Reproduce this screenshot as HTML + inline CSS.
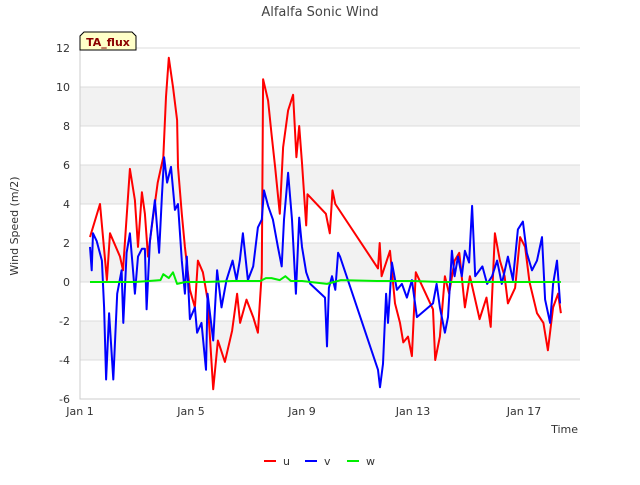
<!DOCTYPE html>
<html><head><meta charset="utf-8"><style>
body{margin:0;background:#fff;font-family:"Liberation Sans","DejaVu Sans",sans-serif}
svg text{font-family:"DejaVu Sans","Liberation Sans",sans-serif}
</style></head><body>
<svg id="c" width="640" height="480" xmlns="http://www.w3.org/2000/svg"></svg>
<script>
const xTickLabels=["Jan 1","Jan 5","Jan 9","Jan 13","Jan 17"];
const xTickDays=[0,4,8,12,16];
const yTicks=[-6,-4,-2,0,2,4,6,8,10,12];
const uT=[0.36,0.72,0.97,1.08,1.44,1.55,1.8,1.98,2.09,2.23,2.34,2.45,2.6,2.8,3.0,3.1,3.2,3.35,3.5,3.53,3.67,3.78,3.96,4.14,4.25,4.43,4.6,4.8,4.97,5.22,5.48,5.66,5.77,6.0,6.24,6.41,6.55,6.6,6.78,6.9,7.03,7.2,7.32,7.5,7.68,7.8,7.9,8.0,8.15,8.2,8.86,9.0,9.1,9.2,10.74,10.8,10.87,11.17,11.35,11.53,11.65,11.82,11.96,12.1,12.72,12.8,12.97,13.15,13.3,13.5,13.67,13.87,14.05,14.4,14.65,14.8,14.95,15.13,15.3,15.42,15.68,15.86,16.04,16.2,16.47,16.7,16.86,17.05,17.23,17.33];
const uV=[2.3,4.0,0.1,2.5,1.3,0.6,5.8,4.2,1.8,4.6,3.5,1.3,3.0,5.1,6.4,9.5,11.5,10.0,8.3,5.9,3.5,1.8,-0.4,-1.3,1.1,0.5,-0.9,-5.5,-3.0,-4.1,-2.5,-0.6,-2.1,-0.9,-1.8,-2.6,0.5,10.4,9.3,7.6,5.9,3.5,6.9,8.8,9.6,6.4,8.0,6.1,2.9,4.5,3.5,2.5,4.7,4.0,0.7,2.0,0.3,1.6,-1.1,-2.1,-3.1,-2.8,-3.8,0.5,-1.4,-4.0,-2.8,0.3,-0.6,1.1,1.5,-1.3,0.3,-1.9,-0.8,-2.3,2.5,1.1,0.3,-1.1,-0.3,2.3,1.8,0.0,-1.6,-2.1,-3.5,-1.3,-0.6,-1.6];
const vT=[0.36,0.42,0.47,0.6,0.79,0.87,0.94,1.05,1.2,1.34,1.5,1.56,1.68,1.8,1.9,1.98,2.09,2.23,2.34,2.4,2.52,2.7,2.85,2.95,3.03,3.14,3.28,3.42,3.53,3.67,3.78,3.85,3.96,4.14,4.22,4.38,4.54,4.6,4.8,4.94,5.1,5.28,5.5,5.64,5.76,5.87,6.05,6.24,6.41,6.55,6.63,6.78,6.95,7.13,7.27,7.35,7.5,7.64,7.78,7.9,8.0,8.15,8.3,8.83,8.9,8.97,9.08,9.2,9.3,9.37,10.74,10.81,10.92,11.03,11.1,11.24,11.42,11.6,11.78,11.96,12.14,12.72,12.85,12.97,13.15,13.26,13.4,13.5,13.62,13.76,13.87,14.02,14.13,14.24,14.5,14.67,14.85,15.03,15.2,15.42,15.6,15.78,15.96,16.1,16.29,16.47,16.65,16.76,16.94,17.05,17.19,17.3];
const vV=[1.8,0.6,2.5,2.1,1.1,-1.3,-5.0,-1.6,-5.0,-0.6,0.6,-2.1,1.5,2.5,0.8,-0.6,1.3,1.7,1.7,-1.4,2.1,4.2,1.5,4.4,6.4,5.1,5.9,3.7,4.0,1.1,-0.6,1.3,-1.9,-1.3,-2.6,-2.1,-4.5,-0.6,-3.0,0.6,-1.3,0.1,1.1,0.1,1.1,2.5,0.1,0.8,2.8,3.2,4.7,3.9,3.2,1.8,0.8,3.2,5.6,3.2,-0.6,3.3,1.8,0.5,-0.1,-0.8,-3.3,-0.3,0.3,-0.4,1.5,1.3,-4.5,-5.4,-4.2,-0.6,-2.1,1.0,-0.4,-0.1,-0.8,0.1,-1.8,-1.1,-0.1,-1.3,-2.6,-1.8,1.6,0.3,1.3,0.3,1.6,1.0,3.9,0.3,0.8,-0.1,0.3,1.1,-0.1,1.3,0.1,2.7,3.1,1.5,0.6,1.1,2.3,-0.9,-2.1,-0.1,1.1,-1.1];
const wT=[0.36,1.0,2.0,2.9,3.0,3.2,3.35,3.5,3.8,4.5,5.5,6.5,6.7,6.9,7.2,7.4,7.6,8.0,8.9,9.4,10.7,12.0,13.0,14.0,15.0,16.0,17.33];
const wV=[0.0,0.0,0.0,0.1,0.4,0.2,0.5,-0.1,0.0,0.0,0.05,0.05,0.2,0.2,0.1,0.3,0.05,0.05,-0.1,0.1,0.05,0.05,0.0,0.0,0.0,0.0,0.0];
const NS="http://www.w3.org/2000/svg",svg=document.getElementById('c');
const L=80,R=580,T=48,B=399;
const xs=d=>L+d*27.75, ys=v=>B-(v+6)*(B-T)/18;
function el(t,a,p){const e=document.createElementNS(NS,t);for(const k in a)e.setAttribute(k,a[k]);(p||svg).appendChild(e);return e;}
for(let v=-4;v<12;v+=2){if([8,4,0,-4].includes(v)){const r=el('rect',{x:L,y:ys(v+2),width:R-L,height:ys(v)-ys(v+2),fill:'#f2f2f2'});}}
yTicks.forEach(v=>{const g=el('line',{x1:L,x2:R,y1:ys(v),y2:ys(v),stroke:'#dcdcdc','stroke-width':1});
const t=el('text',{x:L-10,y:ys(v)+4,'text-anchor':'end','font-size':11,fill:'#333'});t.textContent=v;});
xTickDays.forEach((d,i)=>{const t=el('text',{x:xs(d),y:B+16,'text-anchor':'middle','font-size':11,fill:'#333'});t.textContent=xTickLabels[i];});
const ax=el('path',{d:`M${L},${T}V${B}H${R}`,fill:'none',stroke:'#ccc'});
function series(T_,V_,col,name){const d=T_.map((t,i)=>(i?'L':'M')+xs(t).toFixed(1)+','+ys(V_[i]).toFixed(1)).join('');const p=el('path',{d,fill:'none',stroke:col,'stroke-width':2,'stroke-linejoin':'round'});}
series(uT,uV,'#ff0000','series-u');series(vT,vV,'#0000ff','series-v');series(wT,wV,'#00ee00','series-w');
const tt=el('text',{x:320,y:16,'text-anchor':'middle','font-size':13,fill:'#444'});tt.textContent='Alfalfa Sonic Wind';
const yl=el('text',{x:18,y:226,'text-anchor':'middle','font-size':11,fill:'#333',transform:'rotate(-90 18 226)'});yl.textContent='Wind Speed (m/2)';
const xl=el('text',{x:578,y:433,'text-anchor':'end','font-size':11,fill:'#333'});xl.textContent='Time';
const bx=el('path',{d:'M80,50V36L84,32H132L136,36V50Z',fill:'#ffffc8',stroke:'#000'});
const bt=el('text',{x:108,y:46,'text-anchor':'middle','font-size':11,'font-weight':'bold',fill:'#8b0000'});bt.textContent='TA_flux';
[['u','#ff0000',264],['v','#0000ff',305],['w','#00ee00',347]].forEach(([n,c,x])=>{const l=el('line',{x1:x,x2:x+12,y1:461,y2:461,stroke:c,'stroke-width':2});
const t=el('text',{x:x+19,y:465,'font-size':11,fill:'#333'});t.textContent=n;});
</script>
</body></html>
